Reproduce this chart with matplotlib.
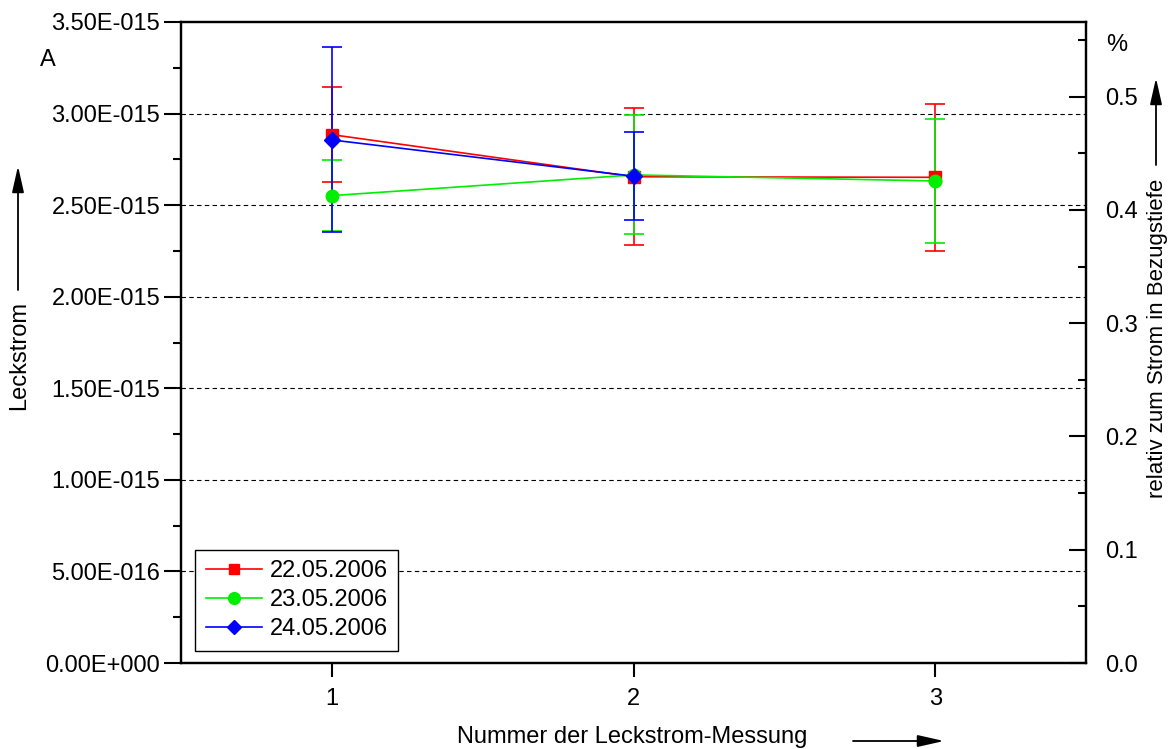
import numpy as np
import matplotlib
matplotlib.use("Agg")
import matplotlib.pyplot as plt
from matplotlib.lines import Line2D
from matplotlib.ticker import FuncFormatter, MultipleLocator

plt.rcParams['font.family'] = ['Liberation Sans', 'DejaVu Sans']
plt.rcParams['font.size'] = 17

# Leckstrom je Messung (A) und Standardabweichung
x_red = [1, 2, 3]
y_red = [2.885e-15, 2.655e-15, 2.652e-15]
e_red = [0.26e-15, 0.373e-15, 0.40e-15]

x_green = [1, 2, 3]
y_green = [2.552e-15, 2.665e-15, 2.632e-15]
e_green = [0.195e-15, 0.325e-15, 0.34e-15]

x_blue = [1, 2]
y_blue = [2.856e-15, 2.658e-15]
e_blue = [0.505e-15, 0.24e-15]

labels = ['22.05.2006', '23.05.2006', '24.05.2006']
x_ticks = [1, 2, 3]
y_ticks = np.arange(0, 3.51e-15, 0.5e-15)


def sci_fmt(v, pos):
    if v == 0:
        return '0.00E+000'
    exp = int(np.floor(np.log10(abs(v))))
    mant = v / 10 ** exp
    sign = '-' if exp < 0 else '+'
    return '%.2fE%s%03d' % (mant, sign, abs(exp))


W, H = 1171, 749
fig = plt.figure(figsize=(W / 100, H / 100), dpi=100)
ax = fig.add_axes([181 / W, (H - 663) / H, 905 / W, 641 / H])

series = [
    (x_red, y_red, e_red, '#ff0000', 's', 8),
    (x_green, y_green, e_green, '#00ee00', 'o', 9),
    (x_blue, y_blue, e_blue, '#0000ff', 'D', 8),
]
handles = []
for (xs, ys, es, c, m, ms), lab in zip(series, labels):
    ax.errorbar(xs, ys, yerr=es, color=c, marker=m, markersize=ms,
                lw=1.2, elinewidth=1.2, capsize=7, capthick=1.2)
    handles.append(Line2D([], [], color=c, marker=m, markersize=ms - 0.5, lw=1.2, label=lab))

ax.set_xlim(0.5, 3.5)
ax.set_ylim(0, 3.5e-15)
ax.set_xticks(x_ticks)
ax.set_yticks(y_ticks)
ax.yaxis.set_minor_locator(MultipleLocator(0.25e-15))
ax.yaxis.set_major_formatter(FuncFormatter(sci_fmt))
ax.tick_params(axis='y', which='major', direction='out', length=12, width=1.5, pad=3)
ax.tick_params(axis='y', which='minor', direction='out', length=6, width=1.5)
ax.tick_params(axis='x', direction='out', length=10, width=1.5, pad=8)

for v in y_ticks[1:-1]:
    ax.axhline(v, color='black', lw=0.8, ls=(0, (4, 3)), zorder=0)

for sp in ax.spines.values():
    sp.set_linewidth(1.6)

leg = ax.legend(handles=handles, loc='lower left', bbox_to_anchor=(0.0155, 0.0187),
                borderaxespad=0, fancybox=False, edgecolor='black',
                framealpha=1, handlelength=2.4, handletextpad=0.3, borderpad=0.45,
                labelspacing=0.3, fontsize=17)
leg.get_frame().set_linewidth(1.0)

# rechte Achse: relativer Anteil in Prozent
ax2 = ax.twinx()
ax2.set_ylim(0, 0.566)
ax2.yaxis.set_major_locator(MultipleLocator(0.1))
ax2.yaxis.set_minor_locator(MultipleLocator(0.05))
ax2.yaxis.set_major_formatter(FuncFormatter(lambda v, p: '%.1f' % v))
ax2.tick_params(axis='y', which='major', direction='in', length=12, width=1.5, pad=14)
ax2.tick_params(axis='y', which='minor', direction='in', length=6, width=1.5)
for sp in ax2.spines.values():
    sp.set_linewidth(1.6)

# Achsenbeschriftungen mit Pfeilen
fig.text(48 / W, 1 - 60 / H, 'A', ha='center', va='center')
fig.text(1117 / W, 1 - 45 / H, '%', ha='center', va='center')

fig.text(19 / W, 1 - 355 / H, 'Leckstrom', rotation=90, ha='center', va='center')
fig.text(1158 / W, 1 - 338 / H, 'relativ zum Strom in Bezugstiefe', rotation=90,
         ha='center', va='center', fontsize=16)
fig.text(632 / W, 1 - 737 / H, 'Nummer der Leckstrom-Messung', ha='center', va='center')

arrow = dict(arrowstyle='-|>,head_length=0.8,head_width=0.18', color='black', lw=1.3,
             mutation_scale=20, shrinkA=0, shrinkB=0)
fig.add_artist(plt.Annotation('', xy=(18 / W, 1 - 166 / H), xytext=(18 / W, 1 - 290 / H),
                              xycoords='figure fraction', arrowprops=arrow))
fig.add_artist(plt.Annotation('', xy=(1156 / W, 1 - 78 / H), xytext=(1156 / W, 1 - 165 / H),
                              xycoords='figure fraction', arrowprops=arrow))
fig.add_artist(plt.Annotation('', xy=(944 / W, 1 - 741 / H), xytext=(853 / W, 1 - 741 / H),
                              xycoords='figure fraction', arrowprops=arrow))

fig.savefig('out.png', dpi=100)
